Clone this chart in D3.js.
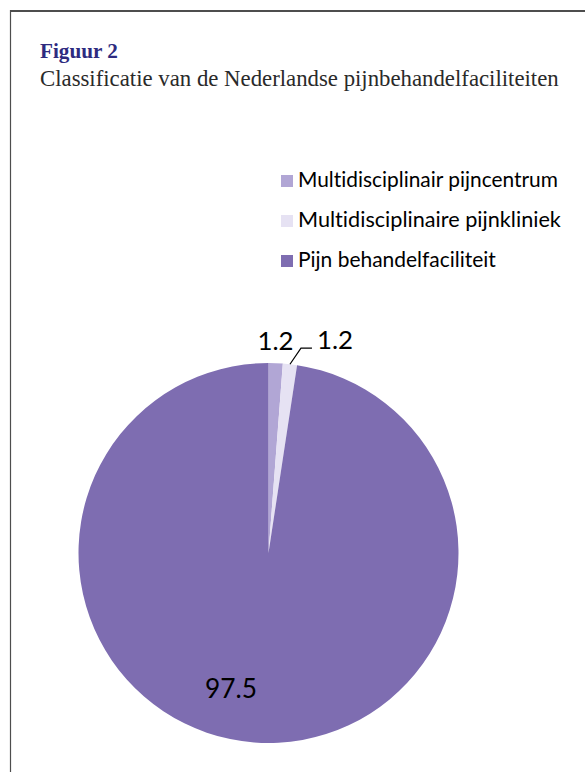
<!DOCTYPE html>
<html>
<head>
<meta charset="utf-8">
<script src="https://cdn.jsdelivr.net/npm/d3@7"></script>
<style>
  html, body { margin: 0; padding: 0; background: #fff; }
  svg { display: block; }
  text { font-variant-ligatures: none; font-feature-settings: "liga" 0; }
</style>
</head>
<body>
<script>
// ---- data ----
const categories = ["Multidisciplinair pijncentrum", "Multidisciplinaire pijnkliniek", "Pijn behandelfaciliteit"];
const values = [1.2, 1.2, 97.5];
const valueLabels = ["1.2", "1.2", "97.5"];
const colors = ["#b1a6d5", "#e6e2f3", "#7e6db1"];
const titleText = "Figuur 2";
const subtitleText = "Classificatie van de Nederlandse pijnbehandelfaciliteiten";

const W = 585, H = 772;
const svg = d3.select("body").append("svg").attr("width", W).attr("height", H);

// frame
svg.append("line").attr("x1", 10).attr("x2", W).attr("y1", 11).attr("y2", 11)
  .attr("stroke", "#4d4d4d").attr("stroke-width", 2);
svg.append("line").attr("x1", 10.5).attr("x2", 10.5).attr("y1", 10).attr("y2", H)
  .attr("stroke", "#4d4d4d").attr("stroke-width", 1.2);

function fit(sel, target) {
  const n = sel.node();
  const fs = parseFloat(sel.attr("font-size"));
  const w = n.getComputedTextLength();
  sel.attr("font-size", (fs * target / w).toFixed(2));
}

const serif = "'Liberation Serif', 'DejaVu Serif', serif";
const sans = "Lato, 'Open Sans', sans-serif";

const t = svg.append("text").attr("x", 40).attr("y", 58)
  .attr("font-family", serif).attr("font-weight", "bold").attr("font-size", 17)
  .attr("fill", "#2e2b7f").text(titleText);
fit(t, 78);
const st = svg.append("text").attr("x", 40).attr("y", 86)
  .attr("font-family", serif).attr("font-size", 18)
  .attr("fill", "#2a2a2a").text(subtitleText);
fit(st, 519);

// legend
const legend = svg.append("g").attr("transform", "translate(281,175)");
const legW = [260, 263, 198];
categories.forEach((c, i) => {
  const g = legend.append("g").attr("transform", `translate(0,${i * 40})`);
  g.append("rect").attr("width", 12).attr("height", 12).attr("fill", colors[i]);
  const tx = g.append("text").attr("x", 17).attr("y", 12)
    .attr("font-family", sans).attr("font-size", 18).attr("fill", "#000").text(c);
  fit(tx, legW[i]);
});

// pie
const cx = 268.5, cy = 553, R = 190;
const pie = d3.pie().sort(null).value(d => d);
const arcs = pie(values);
const arc = d3.arc().innerRadius(0).outerRadius(R);
const g = svg.append("g").attr("transform", `translate(${cx},${cy})`);
g.selectAll("path").data(arcs).enter().append("path")
  .attr("d", arc).attr("fill", (d, i) => colors[i]);

const pt = (a, r) => [r * Math.sin(a), -r * Math.cos(a)];
const mid = d => (d.startAngle + d.endAngle) / 2;

// label 1: outside, centered above
{
  const d = arcs[0];
  const [x, y] = pt(mid(d), 212);
  const tx = g.append("text").attr("x", x - 1).attr("y", y + 9).attr("text-anchor", "middle")
    .attr("font-family", sans).attr("font-size", 26).attr("fill", "#000").text(valueLabels[0]);
  fit(tx, 36);
}
// label 2: with leader line
{
  const d = arcs[1];
  const [x0, y0] = pt(mid(d), R);
  const x1 = x0 + 11, y1 = y0 - 16, x2 = x1 + 11;
  g.append("polyline").attr("points", [[x0, y0], [x1, y1], [x2, y1]].map(p => p.join(",")).join(" "))
    .attr("fill", "none").attr("stroke", "#000").attr("stroke-width", 1.2);
  const tx = g.append("text").attr("x", x2 + 5).attr("y", y1 + 1)
    .attr("font-family", sans).attr("font-size", 26).attr("fill", "#000").text(valueLabels[1]);
  fit(tx, 36);
}
// label 3: inside
{
  const tx = g.append("text").attr("x", 231 - cx).attr("y", 698 - cy).attr("text-anchor", "middle")
    .attr("font-family", sans).attr("font-size", 26).attr("fill", "#000").text(valueLabels[2]);
  fit(tx, 52);
}
</script>
</body>
</html>
